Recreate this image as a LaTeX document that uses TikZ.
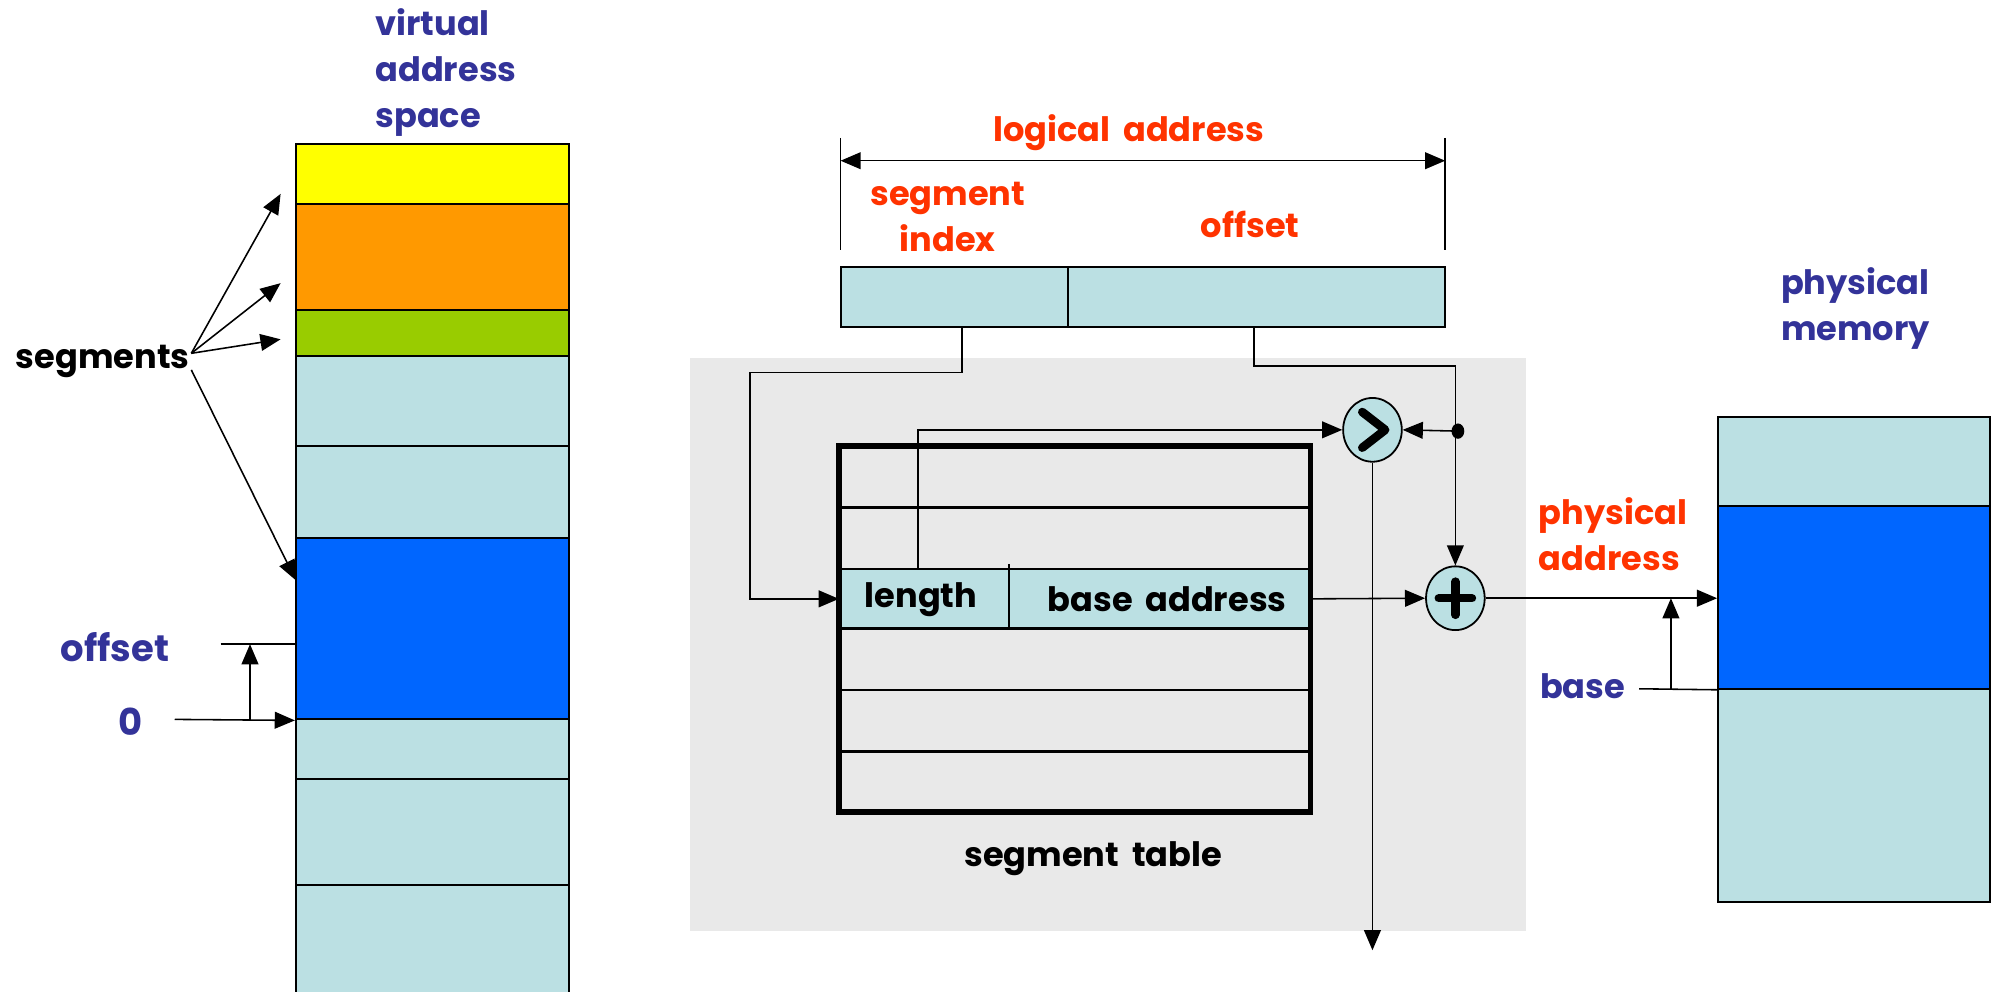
\documentclass[tikz,border=0pt]{standalone}
\usepackage{fontspec}
\setmainfont{Poppins}[WordSpace={1.8}]
\usetikzlibrary{arrows.meta,shapes.geometric,fit,calc}
\definecolor{lblue}{HTML}{BBE0E3}
\definecolor{segblue}{HTML}{0066FF}
\definecolor{segyellow}{HTML}{FFFF00}
\definecolor{segorange}{HTML}{FF9900}
\definecolor{seggreen}{HTML}{99CC00}
\definecolor{panel}{HTML}{E9E9E9}
\definecolor{navy}{HTML}{333399}
\definecolor{hot}{HTML}{FF3300}
\begin{document}
\begin{tikzpicture}[x=0.02cm,y=-0.02cm,
  wire/.style={line width=0.7pt},
  tip/.tip={Triangle[length=9pt,width=7.5pt]},
  arr/.style={wire,-tip},
  cell/.style={draw=black,line width=0.9pt,inner sep=0pt},
  lbl/.style={font=\bfseries\fontsize{15}{20.5}\selectfont,inner sep=0pt,align=left},
  navylbl/.style={lbl,text=navy},
  hotlbl/.style={lbl,text=hot},
  op/.style={ellipse,draw=black,line width=0.8pt,fill=lblue,minimum width=0.92cm,minimum height=1.0cm,inner sep=0pt},
  glyph/.style={line width=3.8pt,line cap=round,line join=round}
]
\useasboundingbox (0,0) rectangle (1568,777);

% ---------- virtual address space ----------
\begin{scope}
\clip (0,0) rectangle (1568,777);
\node[cell,fill=segyellow,fit={(232,113) (446,160)}] (vy) {};
\node[cell,fill=segorange,fit={(232,160) (446,243)}] (vo) {};
\node[cell,fill=seggreen,fit={(232,243) (446,279)}] (vg) {};
\node[cell,fill=lblue,fit={(232,279) (446,350)}] (v1) {};
\node[cell,fill=lblue,fit={(232,350) (446,422)}] (v2) {};
\node[cell,fill=segblue,fit={(232,422) (446,564)}] (vb) {};
\node[cell,fill=lblue,fit={(232,564) (446,611)}] (v3) {};
\node[cell,fill=lblue,fit={(232,611) (446,694)}] (v4) {};
\node[cell,fill=lblue,fit={(232,694) (446,800)}] (v5) {};
\end{scope}

\node[navylbl,anchor=west] (vas) at (294,57) {virtual\\address\\space};
\node[lbl,anchor=west] (segs) at (12,283) {segments};

\coordinate (s0) at (150,277);
\coordinate (s1) at (150,290);
\coordinate (t1) at (220,152);
\coordinate (t2) at (220,222);
\coordinate (t3) at (220,266);
\coordinate (t4) at (232,455);
\draw[arr] (s0) -- (t1);
\draw[arr] (s0) -- (t2);
\draw[arr] (s0) -- (t3);
\draw[arr] (s1) -- (t4);

\node[navylbl,font=\bfseries\fontsize{16.5}{20}\selectfont] (voff) at (90,507) {offset};
\node[navylbl,font=\bfseries\fontsize{16.5}{20}\selectfont] (vzero) at (102,566) {0};
\coordinate (offtick) at (173,505);
\coordinate (zerotail) at (137,564);
\coordinate (offfoot) at (196,564);
\coordinate (offhead) at (196,505);
\draw[wire] (offtick) -- (offtick -| vb.west);
\draw[arr] (zerotail) -- (vb.south west);
\draw[arr] (offfoot) -- (offhead);

% ---------- logical address ----------
\node[hotlbl] (logl) at (885,104) {logical address};
\coordinate (dl) at (659,108);
\coordinate (dr) at (1133,108);
\draw[wire] (dl) -- ++(0,88);
\draw[wire] (dr) -- ++(0,88);
\draw[wire,tip-tip] (659,126) -- (1133,126);
\node[hotlbl,align=center] (segidx) at (743,170) {segment\\index};
\node[hotlbl] (offl) at (980,176) {offset};
\node[cell,fill=lblue,fit={(659,209) (837,256)}] (la1) {};
\node[cell,fill=lblue,fit={(837,209) (1133,256)}] (la2) {};

% ---------- translation hardware ----------
\node[fill=panel,inner sep=0pt,fit={(541,281) (1196,730)}] (hw) {};

\node[inner sep=0pt,fit={(658,350) (1027,636)}] (tab) {};
\node[fill=lblue,inner sep=0pt,fit={(658,446) (791,493)}] (rowL) {};
\node[fill=lblue,inner sep=0pt,fit={(791,446) (1027,493)}] (rowB) {};
\foreach \yy in {398,446,493,541,589}
  \draw[line width=1.2pt] (658,\yy) -- (1027,\yy);
\draw[wire] (791,442) -- (791,493);
\draw[line width=2.6pt] (tab.north west) rectangle (tab.south east);
\node[lbl] (lenl) at (722,470) {length};
\node[lbl] (basel) at (915,470) {base address};
\node[lbl] (tabl) at (857,673) {segment table};

\node[op] (cmp) at (1076,337) {};
\draw[glyph] (1068,323) -- (1086,337) -- (1068,351);
\node[op] (plus) at (1141,469) {};
\draw[glyph] (1128,469) -- (1154,469) (1141,456) -- (1141,482);
\node[ellipse,fill=black,minimum width=0.2cm,minimum height=0.24cm,inner sep=0pt] (dot) at (1143,338) {};

\coordinate (ibend) at (588,292);
\coordinate (obend) at (1141,287);
\coordinate (trap) at (1076,745);
\draw[arr] ($(la1.south)+(6,0)$) |- (ibend) |- (rowL.west);
\draw[arr] ($(la2.south)+(-2,0)$) |- (obend) -- (plus.north);
\draw[arr] (dot.center) -- (cmp.east);
\draw[arr] ($(rowL.north)+(-5,0)$) |- (cmp.west);
\draw[arr] (cmp.south) -- (trap);
\draw[arr] (rowB.east) -- (plus.west);

% ---------- physical memory ----------
\node[navylbl,anchor=west] (pml) at (1396,242) {physical\\memory};
\node[cell,fill=lblue,fit={(1347,327) (1560,397)}] (p1) {};
\node[cell,fill=segblue,fit={(1347,397) (1560,540)}] (pmb) {};
\node[cell,fill=lblue,fit={(1347,540) (1560,707)}] (p2) {};

\node[hotlbl,anchor=west] (pal) at (1206,419) {physical\\address};
\node[navylbl,anchor=west] (basel2) at (1207,538) {base};
\coordinate (btick) at (1285,540);
\coordinate (bfoot) at (1310,540);
\draw[wire] (btick) -- (pmb.south west);
\draw[arr] (plus.east) -- (plus.east -| pmb.west);
\draw[arr] (bfoot) -- (bfoot |- plus.east);
\end{tikzpicture}
\end{document}
